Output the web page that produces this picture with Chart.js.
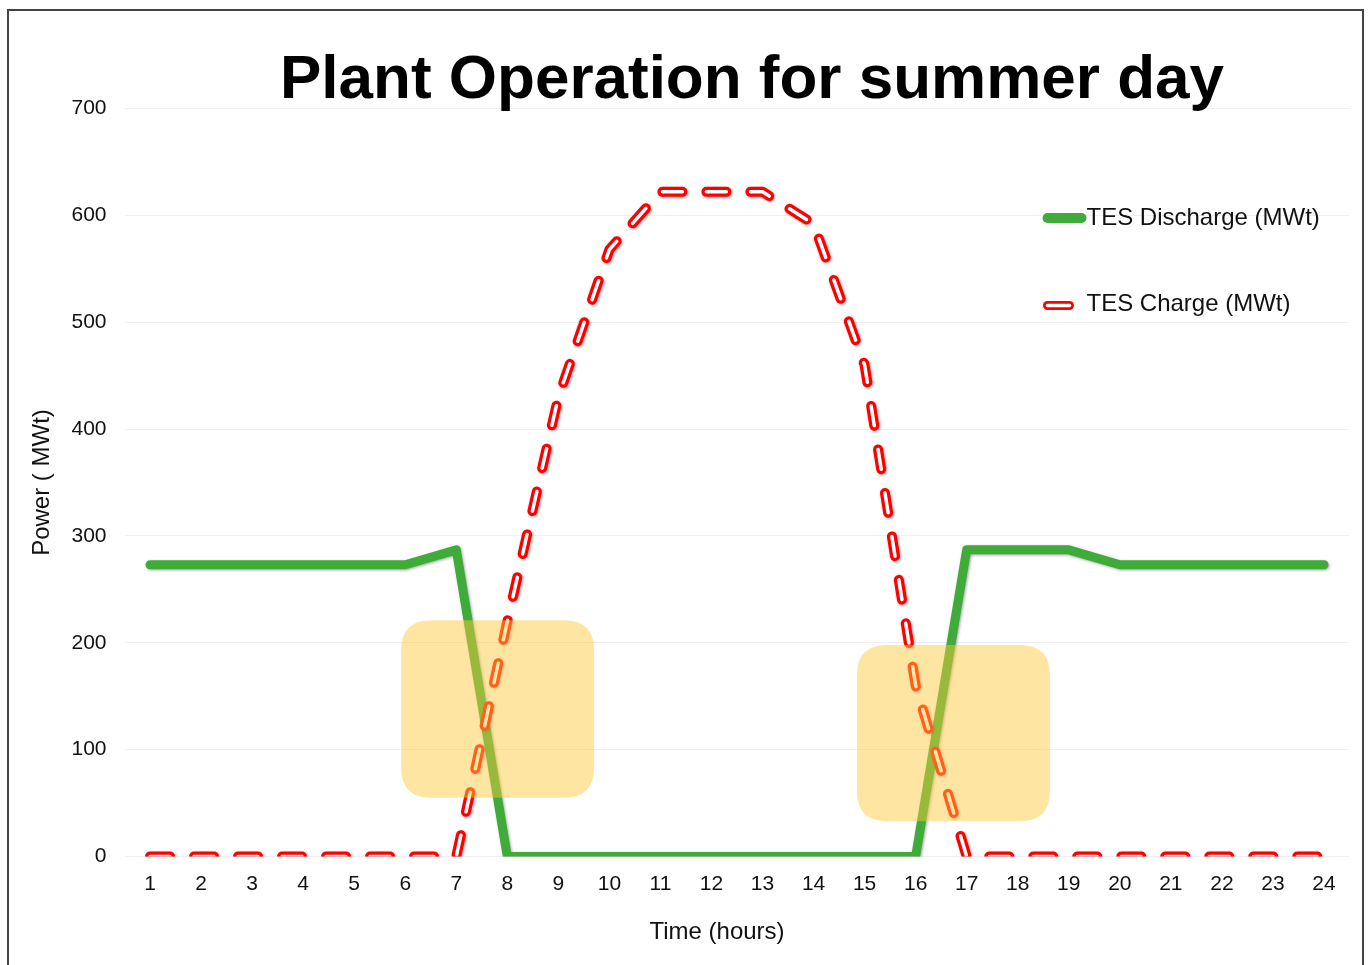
<!DOCTYPE html>
<html>
<head>
<meta charset="utf-8">
<script src="https://cdn.jsdelivr.net/npm/chart.js@4.4.1/dist/chart.umd.min.js"></script>
<style>
  html, body { margin: 0; padding: 0; background: #ffffff; overflow: hidden; }
  #wrap { position: relative; width: 1368px; height: 965px; }
  #c { position: absolute; left: 0; top: 0; }
  #frame { position: absolute; left: 7px; top: 9px; width: 1357px; height: 1000px;
           border: 2px solid #444; box-sizing: border-box; pointer-events: none; }
</style>
</head>
<body>
<div id="wrap">
  <canvas id="c" width="1368" height="965"></canvas>
  <div id="frame"></div>
</div>
<script>
// ---------------- data ----------------
const chartTitle = 'Plant Operation for summer day';
const xAxisTitle = 'Time (hours)';
const yAxisTitle = 'Power ( MWt)';
const hours = ['1','2','3','4','5','6','7','8','9','10','11','12','13','14','15','16','17','18','19','20','21','22','23','24'];
const dischargeLabel = 'TES Discharge (MWt)';
const chargeLabel = 'TES Charge (MWt)';
const discharge = [273, 273, 273, 273, 273, 273, 287, 0, 0, 0, 0, 0, 0, 0, 0, 0, 287, 287, 287, 273, 273, 273, 273, 273];
const charge    = [0, 0, 0, 0, 0, 0, 0, 220, 430, 568, 622, 622, 622, 592, 460, 160, 0, 0, 0, 0, 0, 0, 0, 0];
const yTicks = [0, 100, 200, 300, 400, 500, 600, 700];
// highlighted transition windows (hour value range, power range)
const highlightFromHour = [5.92, 14.85];
const highlightToHour   = [9.70, 18.63];
const highlightLow      = [55, 33];
const highlightHigh     = [221, 198];

// ---------------- styles ----------------
const GREEN = '#3fab38';
const RED = '#ff0000';
const FONT = "'Liberation Sans', Arial, Helvetica, sans-serif";
Chart.defaults.font.family = FONT;
Chart.defaults.color = '#111111';

function roundRect(ctx, x, y, w, h, r) {
  ctx.beginPath();
  ctx.moveTo(x + r, y);
  ctx.lineTo(x + w - r, y);
  ctx.quadraticCurveTo(x + w, y, x + w, y + r);
  ctx.lineTo(x + w, y + h - r);
  ctx.quadraticCurveTo(x + w, y + h, x + w - r, y + h);
  ctx.lineTo(x + r, y + h);
  ctx.quadraticCurveTo(x, y + h, x, y + h - r);
  ctx.lineTo(x, y + r);
  ctx.quadraticCurveTo(x, y, x + r, y);
  ctx.closePath();
}

const shadowPlugin = {
  id: 'lineShadow',
  beforeDatasetDraw(chart, args) {
    const ctx = chart.ctx;
    ctx.save();
    if (args.index === 0 || args.index === 1) {
      ctx.shadowColor = 'rgba(0,0,0,0.35)';
      ctx.shadowBlur = 3;
      ctx.shadowOffsetX = 1;
      ctx.shadowOffsetY = 1;
    }
  },
  afterDatasetDraw(chart) {
    chart.ctx.restore();
  }
};

const decorPlugin = {
  id: 'decor',
  afterDatasetsDraw(chart) {
    const ctx = chart.ctx;
    const xs = chart.scales.x, ys = chart.scales.y;
    ctx.save();
    ctx.fillStyle = 'rgba(252, 200, 60, 0.48)';
    for (let i = 0; i < highlightFromHour.length; i++) {
      const x0 = xs.getPixelForValue(highlightFromHour[i] - 1);
      const x1 = xs.getPixelForValue(highlightToHour[i] - 1);
      const y0 = ys.getPixelForValue(highlightHigh[i]);
      const y1 = ys.getPixelForValue(highlightLow[i]);
      roundRect(ctx, x0, y0, x1 - x0, y1 - y0, 30);
      ctx.fill();
    }
    ctx.restore();
  },
  afterDraw(chart) {
    const ctx = chart.ctx;
    const area = chart.chartArea;
    ctx.save();
    // title
    ctx.fillStyle = '#000000';
    ctx.font = 'bold 62px ' + FONT;
    ctx.textAlign = 'center';
    ctx.textBaseline = 'alphabetic';
    ctx.fillText(chartTitle, 752, 98);
    // x axis title
    ctx.fillStyle = '#111111';
    ctx.font = '24px ' + FONT;
    ctx.textBaseline = 'middle';
    ctx.fillText(xAxisTitle, 717, 932);
    // legend
    const lx = area.right - 302;
    ctx.lineCap = 'round';
    ctx.strokeStyle = GREEN;
    ctx.lineWidth = 10;
    ctx.beginPath(); ctx.moveTo(lx, 218); ctx.lineTo(lx + 34, 218); ctx.stroke();
    ctx.strokeStyle = RED;
    ctx.lineWidth = 9;
    ctx.beginPath(); ctx.moveTo(lx, 305.5); ctx.lineTo(lx + 22, 305.5); ctx.stroke();
    ctx.strokeStyle = '#ffffff';
    ctx.lineWidth = 3.5;
    ctx.beginPath(); ctx.moveTo(lx, 305.5); ctx.lineTo(lx + 22, 305.5); ctx.stroke();
    ctx.fillStyle = '#111111';
    ctx.font = '24px ' + FONT;
    ctx.textAlign = 'left';
    ctx.fillText(dischargeLabel, lx + 39, 218);
    ctx.fillText(chargeLabel, lx + 39, 304);
    ctx.restore();
  }
};

const lineClip = { left: 30, top: 30, right: 30, bottom: 0 };

new Chart(document.getElementById('c'), {
  type: 'line',
  data: {
    labels: hours,
    datasets: [
      {
        label: dischargeLabel,
        data: discharge,
        order: 2,
        borderColor: GREEN,
        borderWidth: 9,
        borderJoinStyle: 'round',
        borderCapStyle: 'round',
        pointRadius: 0,
        tension: 0,
        fill: false,
        clip: lineClip
      },
      {
        label: chargeLabel,
        data: charge,
        order: 1,
        borderColor: RED,
        borderWidth: 10,
        borderDash: [20, 24],
        borderJoinStyle: 'round',
        borderCapStyle: 'round',
        pointRadius: 0,
        tension: 0,
        fill: false,
        clip: lineClip
      },
      {
        label: chargeLabel + ' inner',
        data: charge,
        order: 0,
        borderColor: '#ffffff',
        borderWidth: 3.5,
        borderDash: [20, 24],
        borderJoinStyle: 'round',
        borderCapStyle: 'round',
        pointRadius: 0,
        tension: 0,
        fill: false,
        clip: lineClip
      }
    ]
  },
  options: {
    responsive: false,
    animation: false,
    devicePixelRatio: 1,
    layout: { padding: { top: 108.5, right: 18.5, left: 0, bottom: 0 } },
    plugins: {
      legend: { display: false },
      title: { display: false },
      tooltip: { enabled: false }
    },
    scales: {
      x: {
        type: 'category',
        offset: true,
        grid: { display: false, drawTicks: false },
        border: { display: false },
        ticks: { font: { size: 21 }, color: '#111111', padding: 15, maxRotation: 0, autoSkip: false },
        afterFit(scale) { scale.height = 108.5; }
      },
      y: {
        min: 0,
        max: 700,
        afterBuildTicks(scale) { scale.ticks = yTicks.map(v => ({ value: v })); },
        grid: { color: '#efefef', lineWidth: 1, drawTicks: false },
        border: { display: false },
        ticks: { font: { size: 21 }, color: '#111111', padding: 18 },
        title: { display: true, text: yAxisTitle, font: { size: 24 }, color: '#111111', padding: { top: 27.6, bottom: 0 } },
        afterFit(scale) { scale.width = 124.5; }
      }
    }
  },
  plugins: [shadowPlugin, decorPlugin]
});
</script>
</body>
</html>
